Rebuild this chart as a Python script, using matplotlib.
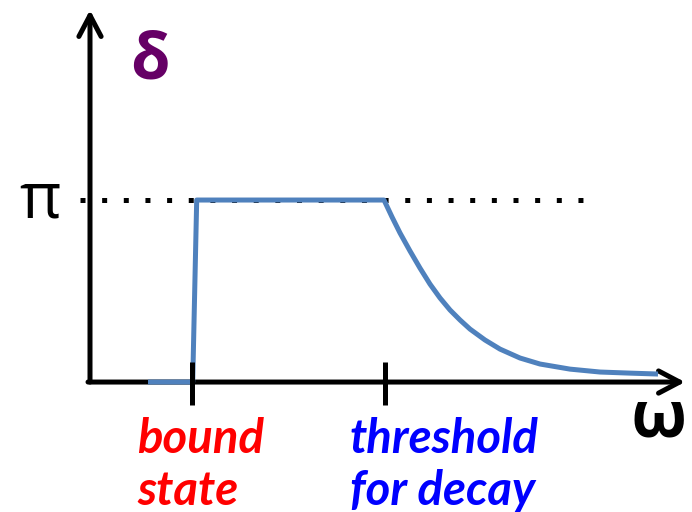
import matplotlib
matplotlib.use('Agg')
import matplotlib.pyplot as plt

# phase shift sketch: delta vs omega (delta in units of pi)
omega = [0.58, 1.027, 1.067, 2.94, 3.02, 3.10, 3.20, 3.30, 3.40, 3.50,
         3.60, 3.70, 3.80, 3.95, 4.10, 4.30, 4.50, 4.80, 5.10, 5.40, 5.68]
delta = [0.0, 0.0, 1.0, 1.0, 0.907, 0.819, 0.720, 0.626, 0.538, 0.462,
         0.396, 0.341, 0.291, 0.231, 0.181, 0.132, 0.099, 0.071, 0.055,
         0.049, 0.044]
tick_pos = [1.02, 2.95]
tick_labels = [['bound', 'state'], ['threshold', 'for decay']]
tick_colors = ['#ff0000', '#0000ff']
pi_level = 1.0

fig = plt.figure(figsize=(6.92, 5.12), dpi=100)
ax = fig.add_axes([0, 0, 1, 1])
ax.set_xlim(-0.90, 6.02)
ax.set_ylim(-0.714, 2.099)
ax.axis('off')

# axes arrows
arr = dict(arrowstyle='->,head_length=0.76,head_width=0.4', lw=3.6,
           color='black', mutation_scale=20, shrinkA=0, shrinkB=0)
ax.annotate('', xy=(0, 2.044), xytext=(0, 0), arrowprops=arr, zorder=2)
ax.annotate('', xy=(5.95, 0), xytext=(-0.02, 0), arrowprops=arr, zorder=2)

# pi level
ax.plot([-0.10, 5.05], [pi_level, pi_level], color='black', lw=3.6,
        linestyle=(0, (1, 3.33)), dash_capstyle='butt', zorder=1)

# curve
ax.plot(omega, delta, color='#4f81bd', lw=3.6, solid_joinstyle='round',
        solid_capstyle='butt', zorder=3)

# ticks and labels
offsets = [-0.55, -0.35]
for x, lab, c, off in zip(tick_pos, tick_labels, tick_colors, offsets):
    ax.plot([x, x], [0.11, -0.126], color='black', lw=3.6,
            solid_capstyle='butt', zorder=4)
    for i, line in enumerate(lab):
        ax.text(x + off, -0.39 - i * 0.285, line, color=c, fontsize=34,
                fontweight='bold', style='italic',
                family=['Lato', 'DejaVu Sans'], ha='left', va='baseline')

ax.text(0.60, 1.758, 'δ', color='#660066', fontsize=46, fontweight='bold',
        family=['Open Sans', 'DejaVu Sans'], ha='center', va='center')
ax.text(-0.50, pi_level, 'π', color='black', fontsize=46,
        family=['Open Sans', 'DejaVu Sans'], ha='center', va='center')
ax.text(5.69, -0.21, 'ω', color='black', fontsize=47, fontweight='bold',
        family=['Open Sans', 'DejaVu Sans'], ha='center', va='center')

fig.savefig('out.png', dpi=100)
